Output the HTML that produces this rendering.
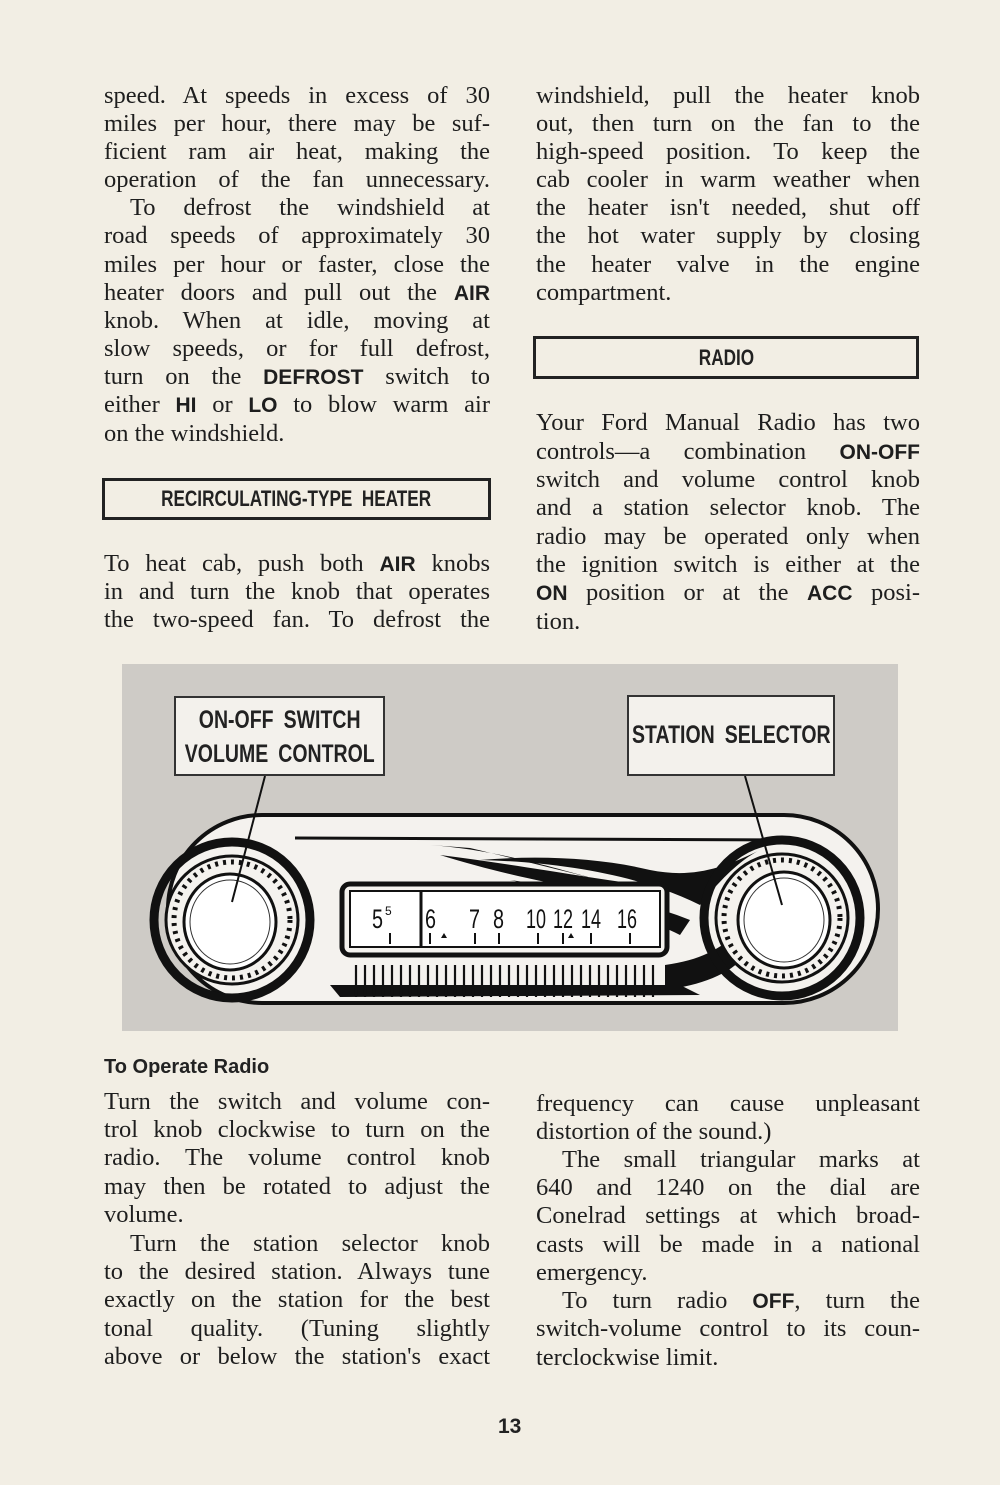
<!DOCTYPE html>
<html><head><meta charset="utf-8">
<style>
html,body{margin:0;padding:0}
body{width:1000px;height:1485px;background:#f2eee4;position:relative;overflow:hidden;font-family:"Liberation Serif",serif;color:#1e1e1e}
.l{position:absolute;height:28px;line-height:28px;font-size:24.5px;white-space:nowrap;text-align:justify;text-align-last:justify}
.L{left:104px;width:386px}
.R{left:536px;width:384px}
.n{text-align-last:left}
b{font-family:"Liberation Sans",sans-serif;font-weight:bold;font-size:21px}
.box{position:absolute;border:3px solid #222;box-sizing:border-box;display:flex;align-items:center;justify-content:center;font-family:"Liberation Sans",sans-serif;font-weight:bold;color:#222;white-space:nowrap}
.box span,.lab span{display:inline-block;transform:scaleX(0.78);margin:0 -60px}
.lab{position:absolute;background:#f3f1ec;border:2px solid #333;box-sizing:border-box;font-family:"Liberation Sans",sans-serif;font-weight:bold;font-size:25px;color:#222;text-align:center;line-height:34px;word-spacing:6px;white-space:nowrap}
</style></head><body>
<div class="l L" style="top:82px">speed. At speeds in excess of 30</div>
<div class="l L" style="top:110px">miles per hour, there may be suf-</div>
<div class="l L" style="top:138px">ficient ram air heat, making the</div>
<div class="l L" style="top:166px">operation of the fan unnecessary.</div>
<div class="l L" style="top:194px;left:130px;width:360px">To defrost the windshield at</div>
<div class="l L" style="top:222px">road speeds of approximately 30</div>
<div class="l L" style="top:251px">miles per hour or faster, close the</div>
<div class="l L" style="top:279px">heater doors and pull out the <b>AIR</b></div>
<div class="l L" style="top:307px">knob. When at idle, moving at</div>
<div class="l L" style="top:335px">slow speeds, or for full defrost,</div>
<div class="l L" style="top:363px">turn on the <b>DEFROST</b> switch to</div>
<div class="l L" style="top:391px">either <b>HI</b> or <b>LO</b> to blow warm air</div>
<div class="l L n" style="top:420px">on the windshield.</div>

<div class="box" style="left:102px;top:478px;width:389px;height:42px;font-size:22px;word-spacing:6px"><span>RECIRCULATING-TYPE HEATER</span></div>

<div class="l L" style="top:550px">To heat cab, push both <b>AIR</b> knobs</div>
<div class="l L" style="top:578px">in and turn the knob that operates</div>
<div class="l L" style="top:606px">the two-speed fan. To defrost the</div>

<div class="l R" style="top:82px">windshield, pull the heater knob</div>
<div class="l R" style="top:110px">out, then turn on the fan to the</div>
<div class="l R" style="top:138px">high-speed position. To keep the</div>
<div class="l R" style="top:166px">cab cooler in warm weather when</div>
<div class="l R" style="top:194px">the heater isn't needed, shut off</div>
<div class="l R" style="top:222px">the hot water supply by closing</div>
<div class="l R" style="top:251px">the heater valve in the engine</div>
<div class="l R n" style="top:279px">compartment.</div>

<div class="box" style="left:533px;top:336px;width:386px;height:43px;font-size:22px"><span>RADIO</span></div>

<div class="l R" style="top:409px">Your Ford Manual Radio has two</div>
<div class="l R" style="top:438px">controls—a combination <b>ON-OFF</b></div>
<div class="l R" style="top:466px">switch and volume control knob</div>
<div class="l R" style="top:494px">and a station selector knob. The</div>
<div class="l R" style="top:523px">radio may be operated only when</div>
<div class="l R" style="top:551px">the ignition switch is either at the</div>
<div class="l R" style="top:579px"><b>ON</b> position or at the <b>ACC</b> posi-</div>
<div class="l R n" style="top:608px">tion.</div>

<svg style="position:absolute;left:0;top:0" width="1000" height="1485">
<rect x="122" y="664" width="776" height="367" fill="#cecbc6"/>
<rect x="168" y="815" width="710" height="188" rx="94" fill="#f4f2ee" stroke="#111" stroke-width="4"/>
<path d="M295 838 L780 840" stroke="#111" stroke-width="3"/>
<path d="M430 845 C500 850 560 870 600 880 C560 870 520 860 470 848 Z M440 855 C520 880 590 890 640 900 L645 885 C600 880 520 865 440 855Z" fill="#111"/>
<path d="M480 860 C560 862 640 875 700 905 C720 880 740 860 760 850 C720 870 690 878 650 870 C600 858 540 855 480 860Z" fill="#111"/>
<path d="M510 880 C580 890 640 900 690 920 L680 935 C640 915 580 895 510 880Z" fill="#111"/>
<path d="M665 965 C700 960 720 950 740 930 L745 955 C730 975 700 985 665 990Z" fill="#111"/>
<path d="M330 985 L680 985 L700 995 L340 997Z" fill="#111"/>
<circle cx="232" cy="920" r="78" fill="none" stroke="#111" stroke-width="9"/>
<ellipse cx="232" cy="920" rx="66" ry="64" fill="#f4f2ee" stroke="#111" stroke-width="3"/>
<circle cx="232" cy="920" r="58" fill="none" stroke="#111" stroke-width="5" stroke-dasharray="3 5"/>
<ellipse cx="230" cy="922" rx="46" ry="48" fill="#fff" stroke="#111" stroke-width="3"/>
<ellipse cx="230" cy="922" rx="40" ry="42" fill="none" stroke="#333" stroke-width="1"/>
<circle cx="782" cy="918" r="78" fill="none" stroke="#111" stroke-width="9"/>
<ellipse cx="782" cy="918" rx="66" ry="64" fill="#f4f2ee" stroke="#111" stroke-width="3"/>
<circle cx="782" cy="918" r="58" fill="none" stroke="#111" stroke-width="5" stroke-dasharray="3 5"/>
<ellipse cx="784" cy="920" rx="46" ry="48" fill="#fff" stroke="#111" stroke-width="3"/>
<ellipse cx="784" cy="920" rx="40" ry="42" fill="none" stroke="#333" stroke-width="1"/>
<rect x="342" y="884" width="325" height="71" rx="8" fill="#f4f2ee" stroke="#111" stroke-width="5"/>
<rect x="350" y="891" width="310" height="56" fill="#fff" stroke="#111" stroke-width="2"/>
<line x1="421" y1="891" x2="421" y2="947" stroke="#111" stroke-width="3"/>
<g font-family="Liberation Sans,sans-serif" font-size="27" fill="#111">
<text x="372" y="928" textLength="11" lengthAdjust="spacingAndGlyphs">5</text><text x="385" y="915" font-size="12">5</text>
<text x="425" y="928" textLength="11" lengthAdjust="spacingAndGlyphs">6</text>
<text x="469" y="928" textLength="11" lengthAdjust="spacingAndGlyphs">7</text>
<text x="493" y="928" textLength="11" lengthAdjust="spacingAndGlyphs">8</text>
<text x="526" y="928" textLength="20" lengthAdjust="spacingAndGlyphs">10</text>
<text x="553" y="928" textLength="20" lengthAdjust="spacingAndGlyphs">12</text>
<text x="581" y="928" textLength="20" lengthAdjust="spacingAndGlyphs">14</text>
<text x="617" y="928" textLength="20" lengthAdjust="spacingAndGlyphs">16</text>
</g>
<g stroke="#111" stroke-width="2">
<line x1="390" y1="933" x2="390" y2="944"/><line x1="430" y1="933" x2="430" y2="944"/><line x1="475" y1="933" x2="475" y2="944"/><line x1="499" y1="933" x2="499" y2="944"/><line x1="538" y1="933" x2="538" y2="944"/><line x1="563" y1="933" x2="563" y2="944"/><line x1="591" y1="933" x2="591" y2="944"/><line x1="630" y1="933" x2="630" y2="944"/>
</g>
<path d="M441 938 l3 -5 l3 5Z M568 938 l3 -5 l3 5Z" fill="#111"/>
<g stroke="#111" stroke-width="2.2">
<line x1="356" y1="965" x2="356" y2="997"/><line x1="365" y1="965" x2="365" y2="997"/><line x1="374" y1="965" x2="374" y2="997"/><line x1="383" y1="965" x2="383" y2="997"/><line x1="392" y1="965" x2="392" y2="997"/><line x1="401" y1="965" x2="401" y2="997"/><line x1="410" y1="965" x2="410" y2="997"/><line x1="419" y1="965" x2="419" y2="997"/><line x1="428" y1="965" x2="428" y2="997"/><line x1="437" y1="965" x2="437" y2="997"/><line x1="446" y1="965" x2="446" y2="997"/><line x1="455" y1="965" x2="455" y2="997"/><line x1="464" y1="965" x2="464" y2="997"/><line x1="473" y1="965" x2="473" y2="997"/><line x1="482" y1="965" x2="482" y2="997"/><line x1="491" y1="965" x2="491" y2="997"/><line x1="500" y1="965" x2="500" y2="997"/><line x1="509" y1="965" x2="509" y2="997"/><line x1="518" y1="965" x2="518" y2="997"/><line x1="527" y1="965" x2="527" y2="997"/><line x1="536" y1="965" x2="536" y2="997"/><line x1="545" y1="965" x2="545" y2="997"/><line x1="554" y1="965" x2="554" y2="997"/><line x1="563" y1="965" x2="563" y2="997"/><line x1="572" y1="965" x2="572" y2="997"/><line x1="581" y1="965" x2="581" y2="997"/><line x1="590" y1="965" x2="590" y2="997"/><line x1="599" y1="965" x2="599" y2="997"/><line x1="608" y1="965" x2="608" y2="997"/><line x1="617" y1="965" x2="617" y2="997"/><line x1="626" y1="965" x2="626" y2="997"/><line x1="635" y1="965" x2="635" y2="997"/><line x1="644" y1="965" x2="644" y2="997"/><line x1="653" y1="965" x2="653" y2="997"/>
</g>
<line x1="265" y1="776" x2="232" y2="902" stroke="#111" stroke-width="2"/>
<line x1="745" y1="776" x2="782" y2="905" stroke="#111" stroke-width="2"/>
</svg>
<div class="lab" style="left:174px;top:696px;width:211px;height:80px;padding-top:5px"><span>ON-OFF SWITCH</span><br><span>VOLUME CONTROL</span></div>
<div class="lab" style="left:627px;top:695px;width:208px;height:81px;line-height:77px"><span>STATION SELECTOR</span></div>

<div style="position:absolute;left:104px;top:1054px;font-family:'Liberation Sans',sans-serif;font-weight:bold;font-size:20px;line-height:26px;color:#222">To Operate Radio</div>

<div class="l L" style="top:1088px">Turn the switch and volume con-</div>
<div class="l L" style="top:1116px">trol knob clockwise to turn on the</div>
<div class="l L" style="top:1144px">radio. The volume control knob</div>
<div class="l L" style="top:1173px">may then be rotated to adjust the</div>
<div class="l L n" style="top:1201px">volume.</div>
<div class="l L" style="top:1230px;left:130px;width:360px">Turn the station selector knob</div>
<div class="l L" style="top:1258px">to the desired station. Always tune</div>
<div class="l L" style="top:1286px">exactly on the station for the best</div>
<div class="l L" style="top:1315px">tonal quality. (Tuning slightly</div>
<div class="l L" style="top:1343px">above or below the station's exact</div>

<div class="l R" style="top:1090px">frequency can cause unpleasant</div>
<div class="l R n" style="top:1118px">distortion of the sound.)</div>
<div class="l R" style="top:1146px;left:562px;width:358px">The small triangular marks at</div>
<div class="l R" style="top:1174px">640 and 1240 on the dial are</div>
<div class="l R" style="top:1202px">Conelrad settings at which broad-</div>
<div class="l R" style="top:1231px">casts will be made in a national</div>
<div class="l R n" style="top:1259px">emergency.</div>
<div class="l R" style="top:1287px;left:562px;width:358px">To turn radio <b>OFF</b>, turn the</div>
<div class="l R" style="top:1315px">switch-volume control to its coun-</div>
<div class="l R n" style="top:1344px">terclockwise limit.</div>

<div style="position:absolute;left:498px;top:1415px;font-family:'Liberation Sans',sans-serif;font-weight:bold;font-size:21px;color:#222">13</div>
</body></html>
